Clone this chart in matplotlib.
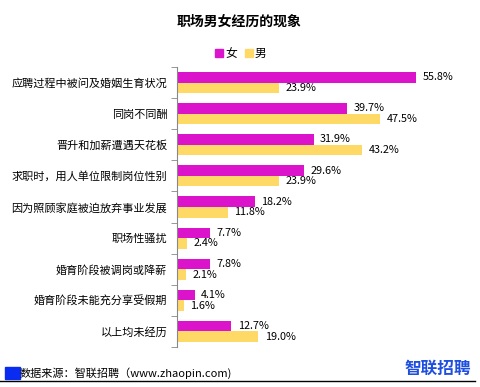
import matplotlib.pyplot as plt
import numpy as np
from matplotlib.patches import Rectangle
from matplotlib.lines import Line2D

plt.rcParams["font.family"] = ["Noto Sans CJK SC", "DejaVu Sans"]

categories = [
    "应聘过程中被问及婚姻生育状况",
    "同岗不同酬",
    "晋升和加薪遭遇天花板",
    "求职时，用人单位限制岗位性别",
    "因为照顾家庭被迫放弃事业发展",
    "职场性骚扰",
    "婚育阶段被调岗或降薪",
    "婚育阶段未能充分享受假期",
    "以上均未经历",
]
female = [55.8, 39.7, 31.9, 29.6, 18.2, 7.7, 7.8, 4.1, 12.7]
male = [23.9, 47.5, 43.2, 23.9, 11.8, 2.4, 2.1, 1.6, 19.0]

COLOR_F = "#DB14CB"
COLOR_M = "#FFD966"

fig = plt.figure(figsize=(4.81, 3.87), dpi=100)
ax = fig.add_axes([177 / 481, 40 / 387, 257 / 481, 280 / 387])

n = len(categories)
y = np.arange(n)
h = 0.34
ax.barh(y - h / 2, female, height=h, color=COLOR_F)
ax.barh(y + h / 2, male, height=h, color=COLOR_M)

for i in range(n):
    ax.text(female[i] + 1.5, y[i] - h / 2, f"{female[i]:.1f}%", va="center", ha="left", fontsize=7.8)
    ax.text(male[i] + 1.5, y[i] + h / 2, f"{male[i]:.1f}%", va="center", ha="left", fontsize=7.8)

ax.set_xlim(0, 60)
ax.set_ylim(n - 0.5, -0.5)
ax.set_yticks(y)
ax.set_yticklabels(categories, fontsize=8)
ax.tick_params(axis="y", length=0, pad=7)
ax.set_yticks(np.arange(n + 1) - 0.5, minor=True)
ax.tick_params(axis="y", which="minor", length=4, color="#888888")
ax.set_xticks([])
for s in ["top", "right", "bottom"]:
    ax.spines[s].set_visible(False)
ax.spines["left"].set_color("#888888")

fig.text(239 / 481, 1 - 22 / 387, "职场男女经历的现象", ha="center", va="center", fontsize=10, fontweight="bold")

# legend
fig.patches.append(Rectangle((215 / 481, 1 - 57 / 387), 8 / 481, 8 / 387, transform=fig.transFigure, color=COLOR_F))
fig.text(225 / 481, 1 - 53 / 387, "女", ha="left", va="center", fontsize=8.5)
fig.patches.append(Rectangle((245 / 481, 1 - 57 / 387), 8 / 481, 8 / 387, transform=fig.transFigure, color=COLOR_M))
fig.text(255 / 481, 1 - 53 / 387, "男", ha="left", va="center", fontsize=8.5)

# footer
fig.patches.append(Rectangle((5 / 481, 1 - 379 / 387), 15 / 481, 12 / 387, transform=fig.transFigure, color="#0A2BF0"))
fig.text(20 / 481, 1 - 373 / 387, "数据来源：智联招聘（www.zhaopin.com)", ha="left", va="center", fontsize=8)
fig.text(471 / 481, 1 - 369 / 387, "智联招聘", ha="right", va="center", fontsize=12, fontweight="bold", color="#1F4FE0")
fig.lines.append(Line2D([0, 475 / 481], [1 - 381 / 387] * 2, transform=fig.transFigure, color="black", lw=1))

fig.savefig("out.png", dpi=100)
